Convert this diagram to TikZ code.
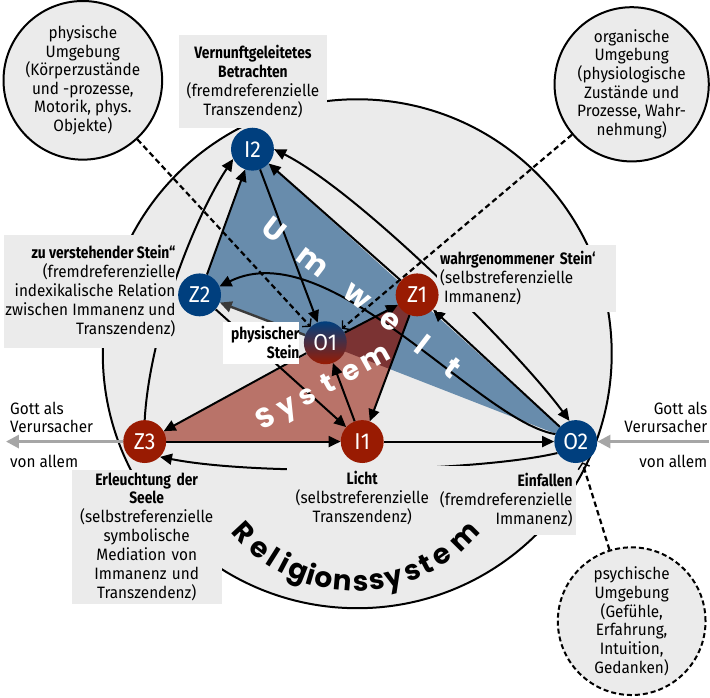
\documentclass[tikz,border=0pt]{standalone}
\usepackage{fontspec}
\setmainfont{Fira Sans}[FakeStretch=0.93,BoldFeatures={FakeStretch=0.84}]
\newfontfamily\bigfont{Poppins}
\usetikzlibrary{arrows.meta}
\definecolor{bggray}{HTML}{EBEBEB}
\definecolor{nblue}{HTML}{003F7E}
\definecolor{nred}{HTML}{991B02}
\definecolor{tblue}{HTML}{688CAC}
\definecolor{tred}{HTML}{B97369}
\definecolor{tdark}{HTML}{7B3333}
\definecolor{gottgray}{HTML}{A6A6A6}
\definecolor{darkarrow}{HTML}{3A3A3A}
\pgfdeclarelayer{bg}
\pgfdeclarelayer{tri}
\pgfdeclarelayer{lines}
\pgfdeclarelayer{letters}
\pgfdeclarelayer{boxes}
\pgfdeclarelayer{dash}
\pgfsetlayers{bg,tri,lines,boxes,letters,dash,main}
\begin{document}
\begin{tikzpicture}[x=1pt,y=-1pt,
  knot/.style={circle,minimum size=43pt,inner sep=0pt,text=white,font=\fontsize{23}{23}\selectfont},
  kb/.style={knot,fill=nblue},
  kr/.style={knot,fill=nred},
  arr/.style={line width=2pt,-{Triangle[length=12pt,width=11pt]}},
  arrboth/.style={line width=2pt,{Triangle[length=12pt,width=11pt]}-{Triangle[length=12pt,width=11pt]}},
  darr/.style={line width=2.2pt,dash pattern=on 5.5pt off 3.5pt,-{Straight Barb[length=5pt,width=12pt,line width=1.4pt]}},
  garr/.style={line width=3pt,draw=gottgray,-{Triangle[length=13pt,width=13pt]}},
  lbl/.style={fill=bggray,inner xsep=1pt,inner ysep=0pt,font=\fontsize{16.5}{19}\selectfont},
  umg/.style={circle,draw,line width=2pt,fill=bggray,minimum size=148pt,inner sep=0pt,align=center,font=\fontsize{16.5}{18.7}\selectfont},
  umgdash/.style={umg,dash pattern=on 5pt off 3pt},
  bigw/.style={text=white,inner sep=0pt,text height=16pt,text depth=0pt,font=\bigfont\bfseries\fontsize{30}{30}\selectfont},
  bigs/.style={text=white,inner sep=0pt,text height=15pt,text depth=0pt,font=\bigfont\bfseries\fontsize{28}{28}\selectfont},
  bigk/.style={text=black,inner sep=0pt,text height=15.5pt,text depth=0pt,font=\bigfont\bfseries\fontsize{28}{28}\selectfont},
  plain/.style={inner sep=0pt,font=\fontsize{16.5}{18.5}\selectfont}
]
% knots
\node[kb] (I2) at (253,147) {I2};
\node[kb] (Z2) at (200,293) {Z2};
\node[kr] (Z1) at (418,293) {Z1};
\node[kr] (Z3) at (145,440) {Z3};
\node[kr] (I1) at (363,440) {I1};
\node[kb] (O2) at (577,440) {O2};
\node[knot,top color=nblue,bottom color=nred] (O1) at (326,341) {O1};
% environments
\node[umg] (U1) at (83,78) {physische\\Umgebung\\(Körperzustände\\und -prozesse,\\Motorik, phys.\\Objekte)};
\node[umg] (U2) at (633,82) {organische\\Umgebung\\(physiologische\\Zustände und\\Prozesse, Wahr-\\nehmung)};
\node[umgdash] (U3) at (633,620) {psychische\\Umgebung\\(Gefühle,\\Erfahrung,\\Intuition,\\Gedanken)};
% Gott labels
\node[plain,anchor=west,align=left] (gl1) at (10,416) {Gott als\\Verursacher};
\node[plain,anchor=west] (gl2) at (10,460) {von allem};
\node[plain,anchor=east,align=right] (gr1) at (709,416) {Gott als\\Verursacher};
\node[plain,anchor=east] (gr2) at (709,460) {von allem};
\coordinate (gL) at (6,440);
\coordinate (gR) at (710,440);

\begin{pgfonlayer}{bg}
\path[use as bounding box,fill=white] (0,0) rectangle (710,696);
\draw[fill=bggray,line width=2pt] (358,352) circle[radius=255pt];
\end{pgfonlayer}

\begin{pgfonlayer}{tri}
\fill[tblue] (I2.center) -- (Z2.center) -- (O2.center) -- cycle;
\fill[tred] (Z3.center) -- (Z1.center) -- (I1.center) -- cycle;
\begin{scope}
\clip (I2.center) -- (Z2.center) -- (O2.center) -- cycle;
\fill[tdark] (Z3.center) -- (Z1.center) -- (I1.center) -- cycle;
\end{scope}
\end{pgfonlayer}

\begin{pgfonlayer}{lines}
\draw[arr] (Z3.north) .. controls (150,330) and (195,215) .. (I2.-153);
\draw[arr] (Z2) -- (I2);
\draw[arr] (I2) -- (O1);
\draw[arr] (Z1) -- (I2);
\draw[arrboth] (I2.east) .. controls (360,190) and (520,350) .. (O2.107);
\draw[arr] (O2.160) .. controls (480,420) and (330,230) .. (Z2.23);
\draw[arr] (O2) -- (Z1);
\draw[arr] (I1) -- (O2);
\draw[arr] (Z3) -- (I1);
\draw[arr] (O2.-148) .. controls (480,470) and (260,475) .. (Z3.-45);
\draw[arr] (O1) -- (Z1);
\draw[arr] (Z1) -- (I1);
\draw[arr] (I1) -- (O1);
\draw[arr] (O1) -- (Z3);
\draw[arr] (Z2) -- (I1);
\draw[arr,draw=darkarrow,line width=2.4pt] (O1) -- (Z2);
\draw[garr] (Z3.west) -- (gL);
\draw[garr] (gR) -- (O2.east);
\end{pgfonlayer}

\begin{pgfonlayer}{letters}
\foreach \ch/\x [count=\i] in {U/273,m/313,w/357,e/390,l/422,t/452}
  \node[bigw,rotate=-37.6] (um\i) at (\x,{230+0.771*(\x-273)}) {\ch};
\foreach \ch/\x [count=\i] in {S/267,y/288,s/308,t/330,e/352,m/377}
  \node[bigs,rotate=29] (sy\i) at (\x,{418-0.5545*(\x-267)}) {\ch};
\foreach \ch/\a [count=\i] in {R/137.1,e/128.4,l/122.3,i/117.6,g/111.8,i/106.6,o/101.6,n/94.8,s/87.8,s/81.9,y/75.5,s/68.3,t/62.4,e/55.6,m/44.7}
  \node[bigk,rotate={90-\a}] (rs\i) at ({356+155*cos(\a)},{427+155*sin(\a)}) {\ch};
\end{pgfonlayer}

\begin{pgfonlayer}{boxes}
\node[lbl,text width=147pt,minimum height=93pt,align=center] (tI2) at (253.5,79.5)
  {\textbf{Vernunftgeleitetes}\\\textbf{Betrachten}\\(fremdreferenzielle\\Transzendenz)};
\node[lbl,minimum width=172pt,minimum height=113pt,align=right,anchor=east] (tZ2) at (177,289.5)
  {\textbf{zu verstehender Stein“}\\(fremdreferenzielle\\indexikalische Relation\\zwischen Immanenz und\\Transzendenz)};
\node[lbl,text width=173pt,minimum height=67pt,align=left,inner xsep=3pt] (tZ1) at (527.5,276.5)
  {\textbf{wahrgenommener Stein‘}\\(selbstreferenzielle\\\hspace*{4pt}Immanenz)};
\node[fill=white,inner sep=0pt,text width=77pt,minimum height=42pt,align=right,font=\bfseries\fontsize{16.5}{19}\selectfont] (tO1) at (261.5,341)
  {physischer\\Stein};
\node[lbl,text width=148pt,minimum height=135pt,align=center] (tZ3) at (147,535.5)
  {\textbf{Erleuchtung der}\\\textbf{Seele}\\(selbstreferenzielle\\symbolische\\Mediation von\\Immanenz und\\Transzendenz)};
\node[lbl,text width=148pt,minimum height=68pt,align=center] (tI1) at (363,497)
  {\textbf{Licht}\\(selbstreferenzielle\\Transzendenz)};
\node[lbl,minimum width=139pt,minimum height=70pt,align=right,anchor=east] (tO2) at (577,499)
  {\textbf{Einfallen}\\(fremdreferenzielle\\Immanenz)};
\end{pgfonlayer}

\begin{pgfonlayer}{dash}
\draw[darr] (U1) -- (O1);
\draw[darr] (U2) -- (O1);
\draw[darr] (U3) -- (O2);
\end{pgfonlayer}
\end{tikzpicture}
\end{document}
